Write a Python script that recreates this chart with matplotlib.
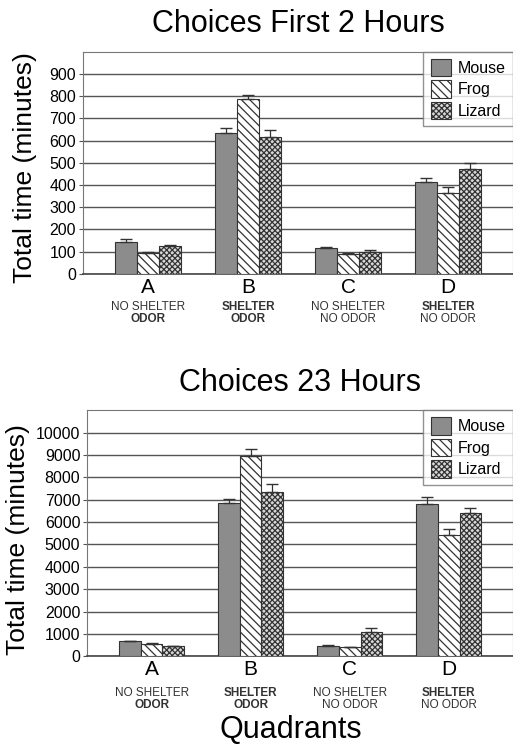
import numpy as np
import matplotlib.pyplot as plt

plt.rcParams['font.family'] = ['Liberation Sans', 'DejaVu Sans']
plt.rcParams['hatch.linewidth'] = 0.9

# Data
quadrants = ["A", "B", "C", "D"]
line1 = ["NO SHELTER", "SHELTER", "NO SHELTER", "SHELTER"]
line2 = ["ODOR", "ODOR", "NO ODOR", "NO ODOR"]
bold1 = [False, True, False, True]
bold2 = [True, True, False, False]
species = ["Mouse", "Frog", "Lizard"]

h2_mouse = [145, 632, 118, 415]
h2_frog = [93, 785, 90, 362]
h2_lizard = [125, 615, 98, 470]
h2_mouse_err = [12, 25, 3, 15]
h2_frog_err = [5, 22, 3, 28]
h2_lizard_err = [3, 33, 10, 30]

h23_mouse = [680, 6850, 470, 6800]
h23_frog = [570, 8950, 400, 5400]
h23_lizard = [450, 7350, 1100, 6400]
h23_mouse_err = [20, 200, 20, 300]
h23_frog_err = [20, 300, 20, 300]
h23_lizard_err = [20, 350, 150, 250]

styles = [dict(facecolor="#8c8c8c", hatch=None),
          dict(facecolor="white", hatch="\\\\\\\\"),
          dict(facecolor="#d8d8d8", hatch="xxxxxx")]

fig = plt.figure(figsize=(5.13, 7.5), dpi=100)
ax1 = fig.add_axes([0.162, 0.635, 0.838, 0.296])
ax2 = fig.add_axes([0.170, 0.125, 0.830, 0.328])


def draw(ax, vals, errs, ymax, ticks, title):
    x = np.arange(len(quadrants))
    w = 0.22
    handles = []
    for i, (v, e) in enumerate(zip(vals, errs)):
        pos = x + (i - 1) * w
        b = ax.bar(pos, v, w, edgecolor="#333333", linewidth=0.8,
                   label=species[i], zorder=3, **styles[i])
        ax.errorbar(pos, v, yerr=[np.zeros(len(v)), e], fmt="none",
                    ecolor="#333333", elinewidth=0.9, capsize=4, zorder=4)
        handles.append(b)
    ax.set_xlim(-0.65, 3.65)
    ax.set_ylim(0, ymax)
    ax.set_yticks(ticks)
    ax.tick_params(axis="y", labelsize=11.5, length=3, color="#555555", pad=2)
    ax.tick_params(axis="x", length=0, labelsize=15, pad=3)
    ax.set_xticks(x)
    ax.set_xticklabels(quadrants)
    ax.yaxis.grid(True, color="#555555", linewidth=1.0, zorder=0)
    ax.set_axisbelow(True)
    for s in ax.spines.values():
        s.set_color("#777777")
    ax.spines["bottom"].set_color("#444444")
    ax.spines["bottom"].set_linewidth(1.2)
    for xi in x:
        ax.text(xi, -0.125, line1[xi], transform=ax.get_xaxis_transform(),
                ha="center", va="top", fontsize=8.5, color="#333333",
                fontweight="bold" if bold1[xi] else "normal")
        ax.text(xi, -0.175, line2[xi], transform=ax.get_xaxis_transform(),
                ha="center", va="top", fontsize=8.5, color="#333333",
                fontweight="bold" if bold2[xi] else "normal")
    leg = ax.legend(handles=handles, loc="upper right", bbox_to_anchor=(1.0, 1.0),
                    borderaxespad=0, fontsize=11.5, fancybox=False,
                    edgecolor="#777777", handlelength=1.3, handleheight=1.3,
                    handletextpad=0.4, labelspacing=0.25, borderpad=0.45)
    leg.get_frame().set_linewidth(1.0)
    ax.set_title(title, fontsize=22, pad=14)


draw(ax1, [h2_mouse, h2_frog, h2_lizard], [h2_mouse_err, h2_frog_err, h2_lizard_err],
     1000, np.arange(0, 1000, 100), "Choices First 2 Hours")
draw(ax2, [h23_mouse, h23_frog, h23_lizard], [h23_mouse_err, h23_frog_err, h23_lizard_err],
     11000, np.arange(0, 11000, 1000), "Choices 23 Hours")

fig.text(0.049, 0.776, "Total time (minutes)", rotation=90, ha="center", va="center",
         fontsize=19)
fig.text(0.036, 0.28, "Total time (minutes)", rotation=90, ha="center", va="center",
         fontsize=19)
fig.text(0.567, 0.027, "Quadrants", ha="center", va="center", fontsize=22)

fig.savefig("out.png", dpi=100)
